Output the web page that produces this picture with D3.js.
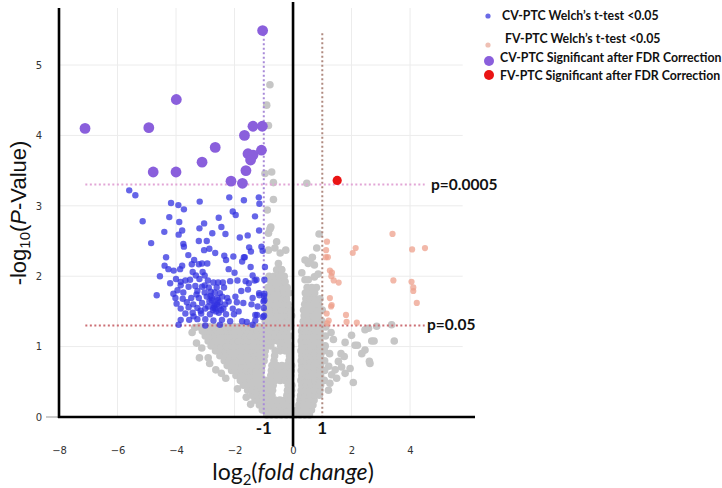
<!DOCTYPE html>
<html><head><meta charset="utf-8">
<script src="https://cdn.jsdelivr.net/npm/d3@7"></script>
<style>body{margin:0;background:#fff}svg{display:block}</style>
</head><body><svg id="c" width="722" height="488"></svg>
<script>
const xTicks = [-8,-6,-4,-2,0,2,4];
const yTicks = [0,1,2,3,4,5];
const legendLabels = ["CV-PTC Welch\u2019s t-test <0.05","FV-PTC Welch\u2019s t-test <0.05","CV-PTC Significant after FDR Correction","FV-PTC Significant after FDR Correction"];
const pThresholds = [{p:"p=0.0005", v:3.301},{p:"p=0.05", v:1.301}];
const fcThresholds = [-1, 1];

// CV-PTC significant after FDR (purple)
const purplePts = [[-1.04,5.49],[-7.11,4.10],[-4.93,4.11],[-3.99,4.51],[-4.78,3.48],[-4.0,3.48],[-2.66,3.83],[-3.11,3.62],[-1.66,4.0],[-1.37,4.13],[-1.05,4.13],[-1.54,3.74],[-1.37,3.72],[-1.45,3.65],[-1.08,3.79],[-1.61,3.50],[-2.12,3.35],[-1.73,3.32]];
// FV-PTC significant after FDR (red)
const redPts = [[1.51,3.36]];
// FV-PTC Welch's t-test < 0.05 (pink)
const pinkPts = [[3.40,2.60],[4.07,2.38],[4.51,2.40],[2.14,2.40],[2.04,2.33],[1.16,2.49],[1.19,2.27],[1.26,2.08],[1.33,2.05],[1.31,2.00],[1.39,1.94],[1.56,1.91],[3.43,1.94],[4.05,1.92],[4.11,1.84],[4.11,1.79],[4.23,1.62],[1.26,1.69],[1.32,1.59],[1.30,1.57],[1.81,1.45],[1.83,1.35],[2.18,1.34],[1.22,1.37],[1.15,1.47],[1.17,1.33],[1.13,2.37],[1.12,2.27]];
// CV-PTC Welch's t-test < 0.05 (blue)
const bluePts = [[-5.60,3.22],[-5.39,3.15],[-4.17,3.04],[-3.92,3.01],[-3.73,2.95],[-3.19,3.06],[-2.18,3.12],[-1.68,3.08],[-1.17,3.12],[-1.15,3.03],[-2.06,2.92],[-1.96,2.87],[-5.14,2.78],[-4.23,2.84],[-3.89,2.77],[-2.54,2.83],[-3.04,2.75],[-3.20,2.68],[-4.40,2.63],[-3.79,2.65],[-3.91,2.59],[-2.76,2.61],[-2.31,2.60],[-1.16,2.65],[-1.55,2.58],[-4.85,2.47],[-3.75,2.46],[-3.73,2.42],[-3.22,2.50],[-2.95,2.50],[-2.86,2.39],[-3.04,2.37],[-2.66,2.33],[-2.35,2.29],[-2.04,2.28],[-1.68,2.27],[-1.50,2.41],[-1.44,2.35],[-1.08,2.42],[-1.04,2.36],[-4.34,2.27],[-3.38,2.23],
[-4.39,2.15],[-4.26,2.10],[-4.08,2.08],[-3.86,2.10],[-3.79,2.15],[-3.46,2.17],[-3.22,2.17],[-3.11,2.18],[-2.93,2.18],[-2.29,2.23],[-1.74,2.21],[-1.65,2.27],[-3.43,2.06],[-3.32,2.01],[-3.09,2.06],[-3.02,2.01],[-4.0,1.96],[-3.84,1.92],[-3.68,1.94],[-3.52,1.95],[-3.20,1.96],[-2.91,1.94],[-2.72,1.91],[-2.56,1.91],[-2.40,1.91],[-2.15,1.93],[-1.90,1.94],[-1.38,2.01],[-1.31,1.94],[-1.51,1.90],[-3.84,1.87],[-3.57,1.85],[-3.34,1.86],[-3.11,1.85],[-2.88,1.84],[-2.61,1.84],[-2.36,1.84],[-4.66,1.73],[-4.09,1.75],[-3.75,1.77],[-3.27,1.79],[-3.02,1.77],[-2.81,1.78],[-2.50,1.76],[-1.77,1.79],[-1.54,1.81],[-0.99,1.72],[-4.02,1.69],[-3.77,1.68],[-3.48,1.69],[-3.22,1.69],[-2.95,1.71],[-2.77,1.69],[-2.59,1.69],[-2.25,1.69],[-1.97,1.71],[-1.38,1.69],[-1.15,1.73],[-3.98,1.61],[-3.63,1.63],[-3.41,1.60],[-3.11,1.62],[-2.86,1.64],[-2.68,1.61],[-2.50,1.63],[-2.20,1.64],[-1.92,1.63],[-1.01,1.64],[-3.84,1.54],[-3.57,1.56],[-3.27,1.55],[-3.0,1.54],[-2.72,1.55],[-2.66,1.54],[-2.38,1.54],[-2.06,1.54],[-3.68,1.47],[-3.43,1.48],[-3.14,1.47],[-2.84,1.46],[-2.54,1.48],[-2.29,1.46],[-2.02,1.46],[-1.29,1.45],[-0.99,1.44],[-3.84,1.38],[-3.55,1.38],[-3.27,1.39],[-3.0,1.39],[-2.72,1.37],[-2.43,1.38],[-2.15,1.36],[-1.74,1.36],[-1.58,1.35],[-1.29,1.37],[-3.91,1.31],[-3.0,1.30],[-2.50,1.31],[-1.38,1.31],
[-0.96,2.13],[-1.25,1.95],[-0.98,1.95],[-1.16,1.76],[-0.98,1.75],[-1.21,1.57],[-1.0,1.55],[-1.03,1.42],[-1.23,1.45],[-0.98,1.66],
[-2.70,1.58],[-2.60,1.60],[-2.78,1.66],[-2.52,1.57],[-2.64,1.50],[-3.30,1.74],[-3.02,1.87],[-2.42,1.71],[-2.74,1.52],[-2.57,1.66],[-2.90,1.57],[-2.46,1.52],[-3.16,1.51],[-2.82,1.72],[-2.68,1.77],[-2.32,1.60],[-3.40,1.43],[-1.86,1.50],[-1.70,1.62],[-1.62,1.93],[-2.00,2.05],[-2.20,2.10],[-1.45,2.13],[-3.58,2.30],[-4.55,2.00],[-4.20,1.90],[-3.95,1.80],[-1.82,2.55],[-2.45,2.70],[-1.30,2.85],[-1.42,1.60]];
// Non-significant (grey): rows of [y, [x...]]
const greyRows = [
[0.03,[-0.9,-0.74,-0.57,-0.4,-0.23,-0.06,0.08,0.24,0.4,0.56]],
[0.10,[-1.05,-0.88,-0.71,-0.54,-0.37,-0.2,-0.05,0.15,0.31,0.47,0.63]],
[0.17,[-1.15,-0.98,-0.81,-0.64,-0.47,-0.3,-0.13,0.2,0.36,0.52,0.68]],
[0.24,[-1.3,-1.13,-0.96,-0.79,-0.62,-0.45,-0.28,-0.12,0.24,0.4,0.56,0.72]],
[0.31,[-1.4,-1.23,-1.06,-0.89,-0.72,-0.21,-0.06,0.26,0.42,0.58,0.74,0.9]],
[0.38,[-1.55,-1.38,-1.21,-1.04,-0.87,-0.7,-0.19,-0.05,0.28,0.44,0.6,0.76,0.92]],
[0.45,[-1.7,-1.53,-1.36,-1.19,-1.02,-0.85,-0.68,-0.17,-0.04,0.3,0.46,0.62,0.78,0.94]],
[0.52,[-1.8,-1.63,-1.46,-1.29,-1.12,-0.95,-0.78,-0.61,-0.44,-0.27,-0.1,0.27,0.43,0.59,0.75,0.91,1.07]],
[0.59,[-1.95,-1.78,-1.61,-1.44,-1.27,-1.1,-0.76,-0.59,-0.42,-0.25,-0.08,0.3,0.46,0.62,0.78,0.94]],
[0.66,[-2.1,-1.93,-1.76,-1.59,-1.42,-1.25,-1.08,-0.74,-0.57,-0.4,-0.23,-0.06,0.28,0.44,0.6,0.76,0.92,1.08]],
[0.73,[-2.25,-2.08,-1.91,-1.74,-1.57,-1.4,-1.23,-1.06,-0.72,-0.55,-0.38,-0.21,-0.05,0.3,0.46,0.62,0.78,0.94]],
[0.80,[-2.35,-2.18,-2.01,-1.84,-1.67,-1.5,-1.33,-1.16,-0.99,-0.65,-0.14,0.28,0.44,0.6,0.76,0.92,1.08]],
[0.87,[-2.5,-2.33,-2.16,-1.99,-1.82,-1.65,-1.48,-1.31,-1.14,-0.97,-0.63,-0.12,0.3,0.46,0.62,0.78,0.94]],
[0.94,[-2.65,-2.48,-2.31,-2.14,-1.97,-1.8,-1.63,-1.46,-1.29,-1.12,-0.95,-0.61,-0.44,-0.27,-0.1,0.27,0.43,0.59,0.75,0.91,1.07]],
[1.01,[-2.8,-2.63,-2.46,-2.29,-2.12,-1.95,-1.78,-1.61,-1.44,-1.27,-1.1,-0.93,-0.76,-0.42,-0.25,-0.08,0.3,0.46,0.62,0.78,0.94,1.1]],
[1.08,[-2.9,-2.73,-2.56,-2.39,-2.22,-2.05,-1.88,-1.71,-1.54,-1.37,-1.2,-1.03,-0.86,-0.69,-0.52,-0.35,-0.18,0.28,0.44,0.6,0.76,0.92]],
[1.15,[-3.0,-2.83,-2.66,-2.49,-2.32,-2.15,-1.98,-1.81,-1.64,-1.47,-1.3,-1.13,-0.96,-0.79,-0.62,-0.45,-0.28,-0.11,0.31,0.47,0.63,0.79,0.95,1.11]],
[1.22,[-3.1,-2.93,-2.76,-2.59,-2.42,-2.25,-2.08,-1.91,-1.74,-1.57,-1.4,-1.23,-1.06,-0.89,-0.72,-0.55,-0.38,-0.21,0.29,0.45,0.61,0.77,0.93]],
[1.28,[-3.2,-3.03,-2.86,-2.69,-2.52,-2.35,-2.18,-2.01,-1.84,-1.67,-1.5,-1.33,-1.16,-0.99,-0.82,-0.65,-0.48,-0.31,-0.14,0.32,0.48,0.64,0.8,0.96,1.12]],
[1.36,[-0.95,-0.78,-0.61,-0.44,-0.27,-0.1,0.35,0.51,0.67,0.83,0.99]],
[1.44,[-0.88,-0.71,-0.54,-0.37,-0.2,-0.05,0.38,0.54,0.7,0.86]],
[1.52,[-0.92,-0.75,-0.58,-0.41,-0.24,-0.08,0.36,0.52,0.68,0.84,1.0]],
[1.60,[-0.85,-0.68,-0.51,-0.34,-0.17,0.4,0.56,0.72,0.88]],
[1.68,[-0.9,-0.73,-0.56,-0.39,-0.22,0.44,0.6,0.76,0.92]],
[1.76,[-0.8,-0.63,-0.46,-0.29,-0.14,0.42,0.58,0.74]],
[1.84,[-0.86,-0.69,-0.52,-0.35,-0.2,0.48,0.64,0.8]],
[1.92,[-0.76,-0.59,-0.42,-0.27]],
[2.00,[-0.82,-0.65,-0.48,-0.3]],
[2.09,[-0.56,-0.39]]
];
const greyExtra = [[-3.2,0.84],[-2.9,0.84],[-2.64,0.67],[-3.3,1.05],[-3.45,1.2],[-3.36,1.27],[-3.12,0.98],[-2.85,0.76],[-2.45,0.62],[-2.3,0.55],[-1.9,0.4],[-1.6,0.28],[-1.45,0.18],
[-0.79,4.72],[-0.9,4.43],[-0.84,4.14],[-0.73,3.48],[-0.67,3.33],[-0.67,3.09],[-0.88,2.94],[-0.96,3.46],[-0.79,2.67],[-0.84,2.37],[-0.76,2.70],[-0.84,2.61],[-0.56,2.49],[-0.62,2.40],[-0.44,2.33],[-0.25,2.37],[-0.5,2.18],[-0.39,2.09],[0.47,3.32],[0.41,1.95],[0.52,1.95],[0.73,1.99],[0.86,2.03],[0.58,2.21],[0.73,2.16],[0.81,2.40],[0.89,2.6],[0.52,2.18],[0.41,2.23],[0.66,2.27],[0.3,2.05],
[1.38,1.10],[1.78,1.06],[2.0,1.16],[2.12,1.02],[2.46,0.95],[2.35,0.90],[2.69,1.08],[2.63,0.76],[3.46,1.08],[2.06,0.49],[1.64,0.90],[1.75,0.86],[1.55,0.79],[1.44,0.67],[1.66,0.71],[1.95,0.69],[1.78,0.62],[1.32,0.60],[1.49,0.55],[1.26,0.48],[1.21,0.38],[2.46,1.24],[3.37,1.31],[2.86,1.29],[2.58,1.26],[2.77,1.08],[2.61,0.79],[2.2,1.02],[1.25,0.9],[1.3,1.2],[1.22,0.72]];

const svg = d3.select("#c");
const x = d3.scaleLinear().domain([-8, 6.22]).range([59, 475]);
const y = d3.scaleLinear().domain([0, 5.81]).range([417, 8]);

// grid
const grid = svg.append("g").attr("stroke","#ececec").attr("stroke-width",1);
grid.selectAll("line.v").data(xTicks).join("line").attr("x1",d=>x(d)).attr("x2",d=>x(d)).attr("y1",y(5.81)).attr("y2",y(0));
grid.selectAll("line.h").data(yTicks.filter(d=>d>0)).join("line").attr("x1",x(-8)).attr("x2",x(5.8)).attr("y1",d=>y(d)).attr("y2",d=>y(d));

// axes tick labels
const fontTick = "'DejaVu Sans', sans-serif";
const xa = svg.append("g").attr("transform","translate(0,417)")
  .call(d3.axisBottom(x).tickValues(xTicks).tickSize(0).tickPadding(30).tickFormat(d=> d<0 ? "\u2212"+Math.abs(d) : String(d)));
xa.select(".domain").remove();
xa.selectAll("text").attr("font-family",fontTick).attr("font-size",10).attr("fill","#333");
const ya = svg.append("g").attr("transform","translate(59,0)")
  .call(d3.axisLeft(y).tickValues(yTicks).tickSize(0).tickPadding(17).tickFormat(d3.format("d")));
ya.select(".domain").remove();
ya.selectAll("text").attr("font-family",fontTick).attr("font-size",10).attr("fill","#333");
svg.append("line").attr("x1",46).attr("x2",59).attr("y1",y(0)).attr("y2",y(0)).attr("stroke","#999").attr("stroke-width",1);

// grey points
const greyPts = [];
greyRows.forEach(([yy, xs]) => xs.forEach(xx => greyPts.push([xx, yy])));
greyExtra.forEach(p => greyPts.push(p));
svg.append("g").selectAll("circle").data(greyPts).join("circle")
  .attr("cx",d=>x(d[0])).attr("cy",d=>y(d[1])).attr("r",3.8).attr("fill","#c6c6c6");

// threshold dotted lines
svg.append("line").attr("x1",x(-1)).attr("x2",x(-1)).attr("y1",y(5.5)).attr("y2",y(0))
  .attr("stroke","#a88ad8").attr("stroke-width",2).attr("stroke-dasharray","2,2.5");
svg.append("line").attr("x1",x(1)).attr("x2",x(1)).attr("y1",y(5.45)).attr("y2",y(0))
  .attr("stroke","#b08a80").attr("stroke-width",2).attr("stroke-dasharray","2,2.5");
svg.append("line").attr("x1",x(-7.1)).attr("x2",x(4.5)).attr("y1",y(3.301)).attr("y2",y(3.301))
  .attr("stroke","#e2a6d6").attr("stroke-width",2).attr("stroke-dasharray","2,2.5");
svg.append("line").attr("x1",x(-7.1)).attr("x2",x(4.5)).attr("y1",y(1.301)).attr("y2",y(1.301))
  .attr("stroke","#cc6f75").attr("stroke-width",2).attr("stroke-dasharray","2,2.5");

// coloured points
svg.append("g").selectAll("circle").data(pinkPts).join("circle")
  .attr("cx",d=>x(d[0])).attr("cy",d=>y(d[1])).attr("r",3.1).attr("fill","#eda08c").attr("fill-opacity",0.75);
svg.append("g").selectAll("circle").data(bluePts).join("circle")
  .attr("cx",d=>x(d[0])).attr("cy",d=>y(d[1])).attr("r",3.2).attr("fill","#3232e0").attr("fill-opacity",0.75);
svg.append("g").selectAll("circle").data(purplePts).join("circle")
  .attr("cx",d=>x(d[0])).attr("cy",d=>y(d[1])).attr("r",5.4).attr("fill","#8a5fdc");
svg.append("g").selectAll("circle").data(redPts).join("circle")
  .attr("cx",d=>x(d[0])).attr("cy",d=>y(d[1])).attr("r",4.6).attr("fill","#ea1414");

// black axes
svg.append("line").attr("x1",x(-8)).attr("x2",x(-8)).attr("y1",8).attr("y2",y(0)+1).attr("stroke","#000").attr("stroke-width",2.6);
svg.append("line").attr("x1",x(0)).attr("x2",x(0)).attr("y1",2).attr("y2",446).attr("stroke","#000").attr("stroke-width",2.6);
svg.append("line").attr("x1",x(-8)-1).attr("x2",475).attr("y1",y(0)).attr("y2",y(0)).attr("stroke","#000").attr("stroke-width",2.6);

// threshold labels
const lab = "Lato, 'Open Sans', sans-serif";
svg.selectAll("text.fc").data(fcThresholds).join("text").attr("class","fc")
  .attr("x",d=>x(d)).attr("y",434).attr("text-anchor","middle").attr("font-family",lab).attr("font-weight","bold").attr("font-size",17).attr("fill","#111")
  .text(d=> d<0 ? "-1" : "1");
svg.selectAll("text.pt").data(pThresholds).join("text").attr("class","pt")
  .attr("x",(d,i)=> i===0 ? 431 : 427).attr("y",d=>y(d.v)+5).attr("font-family",lab).attr("font-weight","bold").attr("font-size",15.5).attr("fill","#111")
  .text(d=>d.p);

// axis titles
const yt = svg.append("text").attr("transform","translate(26,213) rotate(-90)").attr("text-anchor","middle")
  .attr("font-family","'Liberation Sans', Arial, sans-serif").attr("font-size",22).attr("fill","#111");
yt.append("tspan").text("-log");
yt.append("tspan").attr("font-size",15).attr("dy",4).text("10");
yt.append("tspan").attr("dy",-4).text("(");
yt.append("tspan").attr("font-style","italic").text("P");
yt.append("tspan").text("-Value)");
const xt = svg.append("text").attr("x",x(0)).attr("y",480).attr("text-anchor","middle")
  .attr("font-family",lab).attr("font-size",23).attr("fill","#111");
xt.append("tspan").text("log");
xt.append("tspan").attr("font-size",15).attr("dy",5).text("2");
xt.append("tspan").attr("dy",-5).text("(");
xt.append("tspan").attr("font-style","italic").text("fold change");
xt.append("tspan").text(")");

// legend
const legY = [16, 39, 58, 76];
const legTextX = [502, 505, 500, 500];
const legColors = ["#6a6ae6","#efc0b4","#8a5fdc","#ea1414"];
const legR = [2.6, 2.6, 5.0, 5.0];
const legDotY = [16, 45, 61, 75];
const lg = svg.append("g");
lg.selectAll("circle").data(legendLabels).join("circle")
  .attr("cx",(d,i)=> i<2 ? 488 : 489).attr("cy",(d,i)=>legDotY[i]).attr("r",(d,i)=>legR[i]).attr("fill",(d,i)=>legColors[i]);
lg.selectAll("text").data(legendLabels).join("text")
  .attr("x",(d,i)=>legTextX[i]).attr("y",(d,i)=>legY[i]).attr("dy","0.35em")
  .attr("font-family",lab).attr("font-weight","bold").attr("font-size",12.3).attr("fill","#111").text(d=>d);
</script></body></html>
